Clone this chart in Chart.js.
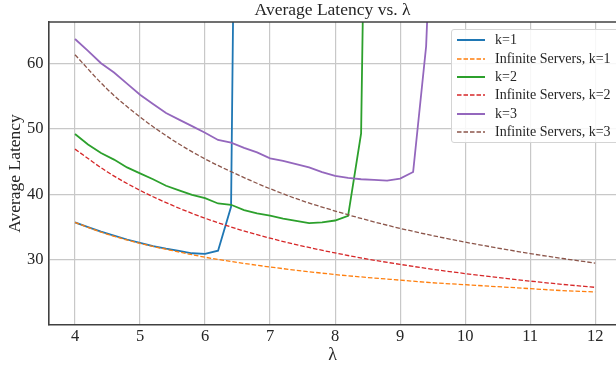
<!DOCTYPE html>
<html>
<head>
<meta charset="utf-8">
<script src="https://cdn.jsdelivr.net/npm/chart.js@4.4.1/dist/chart.umd.min.js"></script>
<style>
  html, body { margin: 0; padding: 0; background: #fff; overflow: hidden; }
  #wrap { position: relative; width: 616px; height: 365px; }
  #legend {
    position: absolute; left: 451px; top: 29px; width: 190px; height: 114px;
    background: rgba(255,255,255,0.85); border: 1px solid #d4d4d4; border-radius: 3px;
    box-sizing: border-box; padding-top: 1px;
    font-family: "Liberation Serif", serif; font-size: 14px; color: #262626;
  }
  .row { height: 18.4px; display: flex; align-items: center; white-space: nowrap; }
  .row svg { margin-left: 5px; margin-right: 10px; }
</style>
</head>
<body>
<div id="wrap">
  <canvas id="chart" width="616" height="365"></canvas>
  <div id="legend"></div>
</div>
<script>
// values
const lamK1 = [4.0, 4.2, 4.4, 4.6, 4.8, 5.0, 5.2, 5.4, 5.6, 5.8, 6.0, 6.2, 6.4, 6.6];
const latK1 = [35.7, 35.0, 34.3, 33.7, 33.1, 32.6, 32.1, 31.7, 31.35, 31.0, 30.9, 31.4, 38.1, 225];

const lamK2 = [4.0, 4.2, 4.4, 4.6, 4.8, 5.0, 5.2, 5.4, 5.6, 5.8, 6.0, 6.2, 6.4, 6.6, 6.8, 7.0,
               7.2, 7.4, 7.6, 7.8, 8.0, 8.2, 8.4, 8.6];
const latK2 = [49.2, 47.6, 46.3, 45.3, 44.1, 43.2, 42.3, 41.3, 40.6, 39.9, 39.4, 38.6, 38.4, 37.6, 37.1, 36.75,
               36.3, 35.95, 35.6, 35.7, 36.0, 36.7, 49.3, 185];

const lamK3 = [4.0, 4.2, 4.4, 4.6, 4.8, 5.0, 5.2, 5.4, 5.6, 5.8, 6.0, 6.2, 6.4, 6.6, 6.8, 7.0,
               7.2, 7.4, 7.6, 7.8, 8.0, 8.2, 8.4, 8.6, 8.8, 9.0, 9.2, 9.4, 9.6];
const latK3 = [63.7, 61.9, 60.0, 58.6, 56.9, 55.2, 53.8, 52.4, 51.4, 50.4, 49.4, 48.3, 47.9, 47.1, 46.4, 45.5,
               45.1, 44.6, 44.1, 43.4, 42.8, 42.5, 42.3, 42.2, 42.1, 42.4, 43.4, 62.6, 112];

const lamInf = [4, 4.5, 5, 5.5, 6, 6.5, 7, 7.5, 8, 8.5, 9, 9.5, 10, 10.5, 11, 11.5, 12];
const latInf1 = [35.7, 33.9, 32.5, 31.4, 30.4, 29.6, 28.9, 28.3, 27.75, 27.3, 26.9, 26.5, 26.2, 25.9, 25.6, 25.3, 25.1];
const latInf2 = [46.9, 43.4, 40.6, 38.3, 36.35, 34.7, 33.3, 32.1, 31.05, 30.1, 29.3, 28.55, 27.9, 27.3, 26.75, 26.25, 25.8];
const latInf3 = [61.3, 56.0, 51.8, 48.3, 45.4, 43.0, 40.85, 39.0, 37.45, 36.05, 34.8, 33.7, 32.7, 31.8, 30.95, 30.2, 29.5];

const seriesLabels = ['k=1', 'Infinite Servers, k=1', 'k=2', 'Infinite Servers, k=2', 'k=3', 'Infinite Servers, k=3'];
const xTicks = [4, 5, 6, 7, 8, 9, 10, 11, 12];
const yTicks = [30, 40, 50, 60];

const colors = ['#1f77b4', '#ff7f0e', '#2ca02c', '#d62728', '#9467bd', '#8c564b'];
const dashed = [false, true, false, true, false, true];
const xs = [lamK1, lamInf, lamK2, lamInf, lamK3, lamInf];
const ys = [latK1, latInf1, latK2, latInf2, latK3, latInf3];

const FONT = '"Liberation Serif", serif';
const TXT = '#262626';

function pts(x, y) {
  return x.map((v, i) => ({ x: v, y: y[i] }));
}

const datasets = seriesLabels.map((lab, i) => ({
  label: lab,
  data: pts(xs[i], ys[i]),
  borderColor: colors[i],
  backgroundColor: colors[i],
  borderWidth: dashed[i] ? 1.3 : 1.8,
  borderDash: dashed[i] ? [4.5, 2] : [],
  pointRadius: 0,
  fill: false,
  tension: 0,
  cubicInterpolationMode: dashed[i] ? 'monotone' : 'default',
  order: seriesLabels.length - i
}));

// top spine
const topSpine = {
  id: 'topSpine',
  afterDatasetsDraw(chart) {
    const a = chart.chartArea;
    const ctx = chart.ctx;
    ctx.save();
    ctx.strokeStyle = '#404040';
    ctx.lineWidth = 1.6;
    ctx.beginPath();
    ctx.moveTo(a.left, a.top);
    ctx.lineTo(a.right, a.top);
    ctx.stroke();
    ctx.restore();
  }
};

const chart = new Chart(document.getElementById('chart'), {
  type: 'line',
  data: { datasets: datasets },
  plugins: [topSpine],
  options: {
    responsive: false,
    animation: false,
    devicePixelRatio: 1,
    layout: { padding: 0 },
    plugins: {
      legend: { display: false },
      tooltip: { enabled: false },
      title: {
        display: true,
        fullSize: false,
        text: 'Average Latency vs. λ',
        color: TXT,
        font: { family: FONT, size: 17.5, weight: 'normal' },
        padding: { top: 0, bottom: 1 }
      }
    },
    scales: {
      x: {
        type: 'linear',
        min: 3.6,
        max: 12.32,
        afterBuildTicks: s => { s.ticks = xTicks.map(v => ({ value: v })); },
        afterFit: s => { s.height = 40; },
        ticks: { color: TXT, font: { family: FONT, size: 16.5 }, padding: 2, maxRotation: 0 },
        grid: { color: '#c8c8c8', lineWidth: 1.2, drawTicks: false },
        border: { color: '#404040', width: 1.6 },
        title: {
          display: true, text: 'λ', color: TXT,
          font: { family: FONT, size: 18, lineHeight: 1.0 },
          padding: { top: 0, bottom: 0.5 }
        }
      },
      y: {
        type: 'linear',
        min: 20.05,
        max: 66.3,
        afterBuildTicks: s => { s.ticks = yTicks.map(v => ({ value: v })); },
        afterFit: s => { s.width = 49; },
        ticks: { color: TXT, font: { family: FONT, size: 16.5 }, padding: 5.5 },
        grid: { color: '#c8c8c8', lineWidth: 1.2, drawTicks: false },
        border: { color: '#404040', width: 1.6 },
        title: {
          display: true, text: 'Average Latency', color: TXT,
          font: { family: FONT, size: 17.5 },
          padding: { top: 4.5, bottom: 0 }
        }
      }
    }
  }
});

// legend in the upper right corner
const legend = document.getElementById('legend');
seriesLabels.forEach((lab, i) => {
  const row = document.createElement('div');
  row.className = 'row';
  const dash = dashed[i] ? ' stroke-dasharray="4.5 2"' : '';
  const w = dashed[i] ? 1.5 : 2;
  row.innerHTML = '<svg width="28" height="6"><line x1="0" y1="3" x2="28" y2="3" stroke="' + colors[i] +
    '" stroke-width="' + w + '"' + dash + '/></svg><span>' + lab + '</span>';
  legend.appendChild(row);
});
</script>
</body>
</html>
